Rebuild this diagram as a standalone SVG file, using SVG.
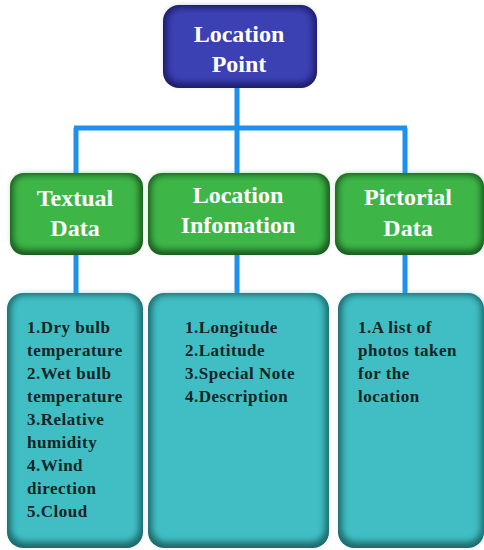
<svg xmlns="http://www.w3.org/2000/svg" width="484" height="550" viewBox="0 0 484 550">
<defs>
<filter id="soft" x="-10%" y="-10%" width="120%" height="120%"><feGaussianBlur stdDeviation="3"/></filter>
<style>
.conn{stroke:#1e90ee;stroke-width:5;fill:none}
.title{font-family:"Liberation Serif",serif;font-weight:bold;fill:#ffffff;text-anchor:middle;font-size:24px}
.item{font-family:"Liberation Serif",serif;font-weight:bold;fill:#132525;font-size:17px;letter-spacing:0.5px}
</style>
</defs>
<rect width="484" height="550" fill="#ffffff"/>
<g id="connectors">
<path class="conn" d="M237 88V128M74 128H407M76 128V175M237 128V175M405 128V175M76 255V294M237 255V294M405 255V294"/>
</g>
<g id="location-point">
<rect x="163" y="5" width="154" height="83" rx="16" fill="#1c1d66"/>
<rect x="167" y="8" width="146" height="75" rx="13" fill="#3b3fb3" filter="url(#soft)"/>
<text class="title" x="239" y="42">Location</text>
<text class="title" x="239" y="72">Point</text>
</g>
<g id="textual-data">
<rect x="10" y="173" width="133" height="82" rx="14" fill="#1a5a1e"/>
<rect x="13" y="175" width="126" height="75" rx="12" fill="#3db546" filter="url(#soft)"/>
<text class="title" x="75" y="206">Textual</text>
<text class="title" x="75" y="236">Data</text>
</g>
<g id="location-information">
<rect x="148" y="173" width="182" height="82" rx="14" fill="#1a5a1e"/>
<rect x="151" y="175" width="175" height="75" rx="12" fill="#3db546" filter="url(#soft)"/>
<text class="title" x="238" y="203">Location</text>
<text class="title" x="238" y="233">Infomation</text>
</g>
<g id="pictorial-data">
<rect x="335" y="173" width="149" height="82" rx="14" fill="#1a5a1e"/>
<rect x="338" y="175" width="143" height="75" rx="12" fill="#3db546" filter="url(#soft)"/>
<text class="title" x="408" y="205">Pictorial</text>
<text class="title" x="408" y="236">Data</text>
</g>
<g id="textual-list">
<rect x="7" y="293" width="136" height="255" rx="16" fill="#1d6a6c"/>
<rect x="11" y="295" width="128" height="247" rx="14" fill="#40bec3" filter="url(#soft)"/>
<text class="item" x="27" y="333">1.Dry bulb</text>
<text class="item" x="27" y="356">temperature</text>
<text class="item" x="27" y="379">2.Wet bulb</text>
<text class="item" x="27" y="402">temperature</text>
<text class="item" x="27" y="425">3.Relative</text>
<text class="item" x="27" y="448">humidity</text>
<text class="item" x="27" y="471">4.Wind</text>
<text class="item" x="27" y="494">direction</text>
<text class="item" x="27" y="517">5.Cloud</text>
</g>
<g id="location-list">
<rect x="148" y="293" width="181" height="255" rx="16" fill="#1d6a6c"/>
<rect x="152" y="295" width="173" height="247" rx="14" fill="#40bec3" filter="url(#soft)"/>
<text class="item" x="185" y="333">1.Longitude</text>
<text class="item" x="185" y="356">2.Latitude</text>
<text class="item" x="185" y="379">3.Special Note</text>
<text class="item" x="185" y="402">4.Description</text>
</g>
<g id="pictorial-list">
<rect x="338" y="293" width="146" height="255" rx="16" fill="#1d6a6c"/>
<rect x="342" y="295" width="139" height="247" rx="14" fill="#40bec3" filter="url(#soft)"/>
<text class="item" x="358" y="333">1.A list of</text>
<text class="item" x="358" y="356">photos taken</text>
<text class="item" x="358" y="379">for the</text>
<text class="item" x="358" y="402">location</text>
</g>
</svg>
